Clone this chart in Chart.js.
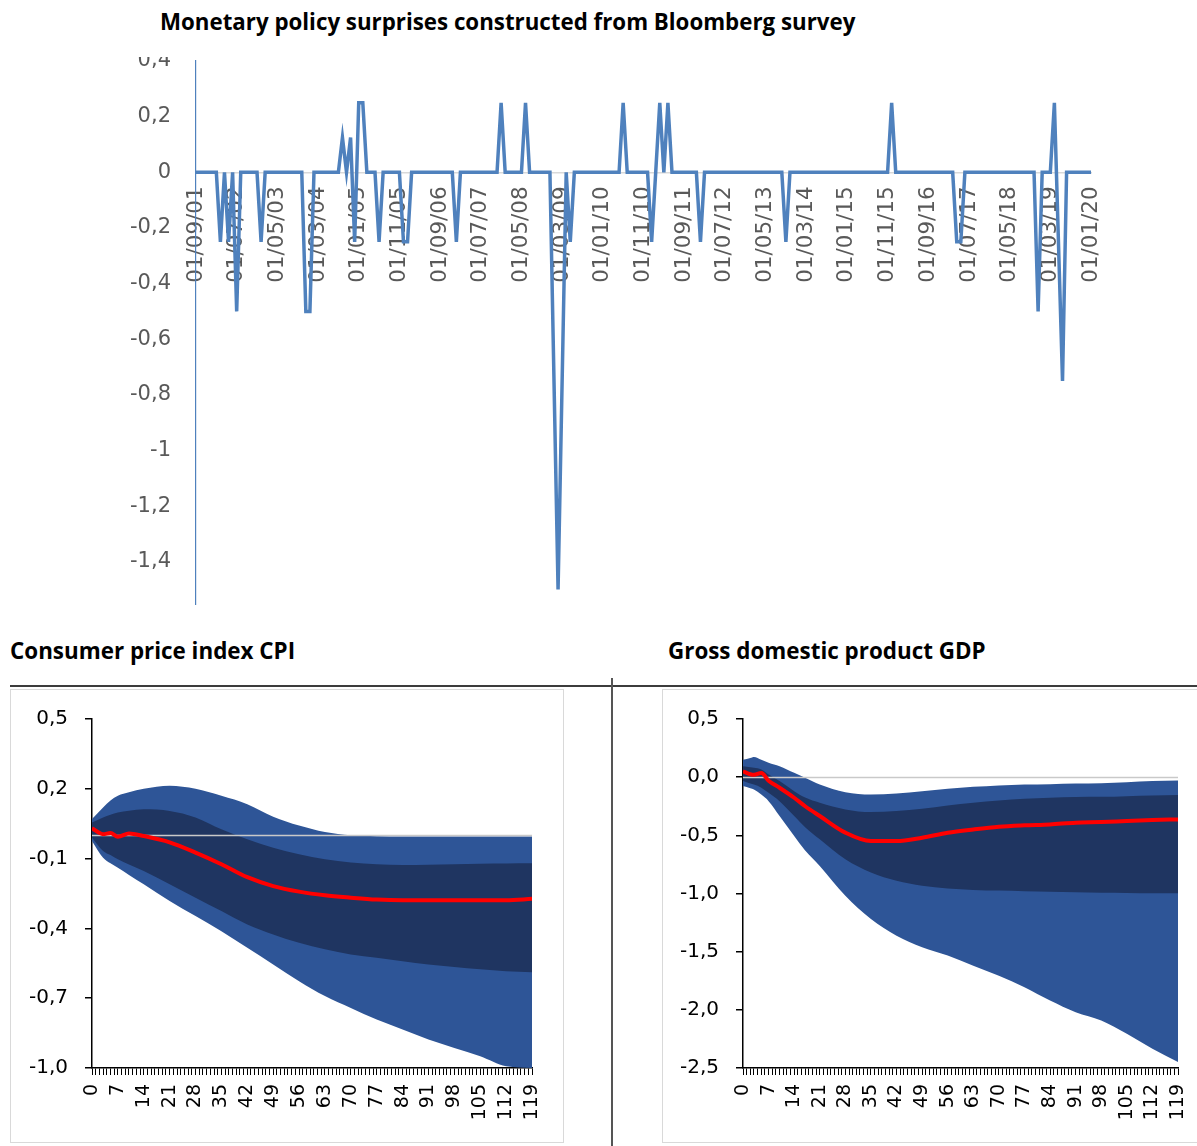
<!DOCTYPE html>
<html>
<head>
<meta charset="utf-8">
<script src="https://cdn.jsdelivr.net/npm/chart.js@4.4.1/dist/chart.umd.min.js"></script>
<style>
  html, body { margin: 0; padding: 0; background: #fff; }
  body { width: 1197px; height: 1146px; position: relative; overflow: hidden; font-family: "Open Sans", sans-serif; }
  .title { position: absolute; font-weight: 700; color: #000; white-space: nowrap; line-height: 30px; }
  #topWrap { position: absolute; left: 0; top: 0; width: 1197px; height: 605px; overflow: hidden; }
  #topCover { position: absolute; left: 0; top: 0; width: 1197px; height: 57px; background: #fff; }
  .rule { position: absolute; background: #3c3c3c; }
  .box { position: absolute; border: 1px solid #d9d9d9; box-sizing: border-box; }
  canvas { position: absolute; }
</style>
</head>
<body>

<div id="topWrap">
  <canvas id="topChart" width="1197" height="655" style="left:0;top:0;width:1197px;height:655px"></canvas>
  <div id="topCover"></div>
</div>
<div class="title" style="left:160px;top:7px;font-size:22.3px">Monetary policy surprises constructed from Bloomberg survey</div>

<div class="title" style="left:10px;top:636px;font-size:22.4px">Consumer price index CPI</div>
<div class="title" style="left:668px;top:636px;font-size:22.4px">Gross domestic product GDP</div>

<div class="rule" style="left:10px;top:685px;width:1187px;height:2px"></div>
<div class="rule" style="left:611px;top:678px;width:2px;height:468px;background:#555"></div>
<div class="box" style="left:10px;top:689px;width:554px;height:454px"></div>
<div class="box" style="left:662px;top:689px;width:560px;height:454px"></div>

<canvas id="cpiChart" width="600" height="457" style="left:0;top:689px;width:600px;height:457px"></canvas>
<canvas id="gdpChart" width="605" height="457" style="left:612px;top:689px;width:605px;height:457px"></canvas>

<script>
// ---------- Monetary policy surprises (monthly, Sep 2001 - Jan 2020) ----------
const firstYear = 2001, firstMonth = 9, monthCount = 221;
const months = [];
for (let k = 0; k < monthCount; k++) {
  const m = (firstMonth - 1 + k) % 12 + 1;
  const y = firstYear + Math.floor((firstMonth - 1 + k) / 12);
  months.push('01/' + String(m).padStart(2, '0') + '/' + String(y % 100).padStart(2, '0'));
}

// surprise in percentage points; null = no observation that month
const surprises = [
  /* 2001 */ 0, 0, 0, 0,
  /* 2002 */ 0, 0, -0.25, 0, -0.25, 0, -0.5, 0, 0, 0, 0, 0,
  /* 2003 */ -0.25, 0, 0, 0, 0, 0, 0, 0, 0, 0, 0, -0.5,
  /* 2004 */ -0.5, 0, 0, 0, 0, 0, 0, 0, 0.125, 0, 0.125, -0.25,
  /* 2005 */ 0.25, 0.25, 0, 0, 0, -0.25, 0, 0, 0, 0, 0, -0.25,
  /* 2006 */ -0.25, 0, 0, 0, 0, 0, 0, 0, 0, 0, 0, 0,
  /* 2007 */ -0.25, 0, 0, 0, 0, 0, 0, 0, 0, 0, 0, 0.25,
  /* 2008 */ 0, 0, 0, 0, 0, 0.25, 0, 0, 0, 0, 0, 0,
  /* 2009 */ null, -1.5, null, 0, -0.25, 0, 0, 0, 0, 0, 0, 0,
  /* 2010 */ 0, 0, 0, 0, 0, 0.25, 0, 0, 0, 0, 0, 0,
  /* 2011 */ -0.25, 0, 0.25, 0, 0.25, 0, 0, 0, 0, 0, 0, 0,
  /* 2012 */ -0.25, 0, 0, 0, 0, 0, 0, 0, 0, 0, 0, 0,
  /* 2013 */ 0, 0, 0, 0, 0, 0, 0, 0, 0, -0.25, 0, 0,
  /* 2014 */ 0, 0, 0, 0, 0, 0, 0, 0, 0, 0, 0, 0,
  /* 2015 */ 0, 0, 0, 0, 0, 0, 0, 0, 0, 0, 0, 0.25,
  /* 2016 */ 0, 0, 0, 0, 0, 0, 0, 0, 0, 0, 0, 0,
  /* 2017 */ 0, 0, 0, -0.25, -0.25, 0, 0, 0, 0, 0, 0, 0,
  /* 2018 */ 0, 0, 0, 0, 0, 0, 0, 0, 0, 0, 0, -0.5,
  /* 2019 */ 0, 0, 0, 0.25, null, -0.75, 0, 0, 0, 0, 0, 0,
  /* 2020 */ 0
];
const dateLabelEvery = 10;

// ---------- Impulse responses: CPI ----------
const cpiHorizons = [0, 3, 5, 7, 10, 14, 21, 28, 35, 42, 49, 56, 63, 70, 77, 84, 91, 98, 105, 112, 119];
const cpiMedian   = [0.03, 0.005, 0.01, -0.006, 0.008, -0.003, -0.03, -0.074, -0.124, -0.18, -0.218, -0.242, -0.258, -0.268, -0.276, -0.279, -0.279, -0.279, -0.279, -0.279, -0.273];
const cpiInnerHi  = [0.055, 0.077, 0.088, 0.098, 0.106, 0.112, 0.105, 0.077, 0.026, -0.017, -0.053, -0.081, -0.103, -0.117, -0.124, -0.127, -0.126, -0.124, -0.122, -0.121, -0.12];
const cpiInnerLo  = [-0.01, -0.067, -0.085, -0.103, -0.125, -0.153, -0.21, -0.268, -0.325, -0.383, -0.426, -0.462, -0.49, -0.512, -0.526, -0.541, -0.555, -0.566, -0.576, -0.584, -0.588];
const cpiOuterHi  = [0.07, 0.12, 0.15, 0.17, 0.185, 0.2, 0.213, 0.2, 0.17, 0.134, 0.08, 0.042, 0.014, 0.0, -0.004, -0.005, -0.005, -0.005, -0.005, -0.005, -0.005];
const cpiOuterLo  = [-0.024, -0.096, -0.12, -0.139, -0.17, -0.21, -0.282, -0.347, -0.412, -0.483, -0.555, -0.627, -0.691, -0.742, -0.792, -0.835, -0.878, -0.914, -0.95, -0.993, -1.0];

// ---------- Impulse responses: GDP ----------
const gdpHorizons = [0, 2, 3, 5, 7, 10, 14, 17, 21, 28, 35, 42, 49, 56, 63, 70, 77, 84, 91, 98, 105, 112, 119];
const gdpMedian   = [0.05, 0.025, 0.02, 0.035, -0.03, -0.091, -0.177, -0.25, -0.334, -0.477, -0.549, -0.549, -0.52, -0.477, -0.449, -0.426, -0.414, -0.406, -0.391, -0.386, -0.377, -0.369, -0.363];
const gdpInnerHi  = [0.094, 0.085, 0.08, 0.066, 0.023, -0.034, -0.12, -0.175, -0.22, -0.277, -0.3, -0.291, -0.271, -0.243, -0.22, -0.2, -0.186, -0.177, -0.171, -0.169, -0.163, -0.157, -0.154];
const gdpInnerLo  = [-0.034, -0.055, -0.063, -0.09, -0.134, -0.206, -0.334, -0.43, -0.534, -0.706, -0.82, -0.891, -0.934, -0.957, -0.969, -0.975, -0.98, -0.985, -0.99, -0.993, -0.995, -0.997, -0.997];
const gdpOuterHi  = [0.15, 0.165, 0.174, 0.15, 0.123, 0.094, 0.037, -0.006, -0.063, -0.129, -0.149, -0.14, -0.12, -0.1, -0.083, -0.071, -0.063, -0.06, -0.054, -0.052, -0.043, -0.034, -0.029];
const gdpOuterLo  = [-0.077, -0.095, -0.106, -0.15, -0.206, -0.334, -0.506, -0.63, -0.763, -1.02, -1.22, -1.363, -1.463, -1.534, -1.62, -1.706, -1.806, -1.92, -2.02, -2.091, -2.206, -2.334, -2.449];

const horizonMax = 119;
const horizonLabelEvery = 7;

// ---------- styling ----------
Chart.defaults.font.family = "'DejaVu Sans', sans-serif";
const BLUE_LINE = '#4f81bd';
const BAND_OUTER = '#2e5597';
const BAND_INNER = '#1f3561';
const MEDIAN_RED = '#ff0000';

const fmtTop = v => {
  const r = Math.round(v * 10) / 10;
  return r === 0 ? '0' : String(r).replace('.', ',');
};
const fmtBand = v => {
  const r = Math.round(v * 10) / 10;
  return (r === 0 ? 0 : r).toFixed(1).replace('.', ',');
};

// ---------- top chart ----------
new Chart(document.getElementById('topChart'), {
  type: 'line',
  data: {
    labels: months,
    datasets: [{
      data: surprises,
      borderColor: BLUE_LINE,
      borderWidth: 3.5,
      pointRadius: 0,
      tension: 0,
      spanGaps: true,
      fill: false,
      borderJoinStyle: 'miter'
    }]
  },
  options: {
    responsive: false,
    animation: false,
    devicePixelRatio: 1,
    layout: { padding: { left: 0, right: 106, top: 61, bottom: 26 } },
    plugins: { legend: { display: false }, tooltip: { enabled: false } },
    scales: {
      x: {
        type: 'category',
        position: { y: 0 },
        offset: false,
        grid: { display: false, drawTicks: true, tickLength: 8 },
        border: { display: true, color: '#d9d9d9', width: 1.5 },
        ticks: {
          autoSkip: false, minRotation: 90, maxRotation: 90, padding: 6,
          color: '#595959', font: { size: 21.5 },
          callback: (v, i) => (i % dateLabelEvery === 0 ? months[i] : '')
        }
      },
      y: {
        min: -1.6, max: 0.4,
        grid: { display: false, drawTicks: false },
        border: { display: true, color: BLUE_LINE, width: 1.2 },
        ticks: { stepSize: 0.2, padding: 25, color: '#595959', font: { size: 21 }, callback: fmtTop },
        afterFit: s => { s.width = 196; }
      }
    }
  }
});

// ---------- band charts ----------
const zeroLinePlugin = {
  id: 'zeroLine',
  afterDatasetDraw(chart, args) {
    if (args.index !== 1) return;
    const { ctx, chartArea, scales } = chart;
    const py = Math.round(scales.y.getPixelForValue(0)) + 0.5;
    ctx.save();
    ctx.strokeStyle = '#c9c9c9';
    ctx.lineWidth = 1.5;
    ctx.beginPath();
    ctx.moveTo(chartArea.left, py);
    ctx.lineTo(chartArea.right, py);
    ctx.stroke();
    ctx.restore();
  }
};

function points(hs, vs) { return hs.map((h, k) => ({ x: h, y: vs[k] })); }

function bandChart(id, hs, med, inHi, inLo, outHi, outLo, yMin, yMax, yStep, axisLeft, padRight) {
  const common = { pointRadius: 0, cubicInterpolationMode: 'monotone' };
  new Chart(document.getElementById(id), {
    type: 'line',
    data: {
      datasets: [
        { ...common, data: points(hs, med), borderColor: MEDIAN_RED, borderWidth: 4, fill: false },
        { ...common, data: points(hs, inHi), borderWidth: 0, borderColor: BAND_INNER, backgroundColor: BAND_INNER, fill: '+1' },
        { ...common, data: points(hs, inLo), borderWidth: 0, borderColor: BAND_INNER, fill: false },
        { ...common, data: points(hs, outHi), borderWidth: 0, borderColor: BAND_OUTER, backgroundColor: BAND_OUTER, fill: '+1' },
        { ...common, data: points(hs, outLo), borderWidth: 0, borderColor: BAND_OUTER, fill: false }
      ]
    },
    options: {
      responsive: false,
      animation: false,
      devicePixelRatio: 1,
      layout: { padding: { left: 0, right: padRight, top: 30, bottom: 0 } },
      plugins: { legend: { display: false }, tooltip: { enabled: false } },
      scales: {
        x: {
          type: 'linear', min: 0, max: horizonMax,
          grid: { drawOnChartArea: false, drawTicks: true, tickLength: 7, color: '#000', lineWidth: 1 },
          border: { display: true, color: '#000', width: 1.5 },
          ticks: {
            stepSize: 1, autoSkip: false, minRotation: 90, maxRotation: 90, padding: 9,
            color: '#000', font: { size: 19 },
            callback: v => (v % horizonLabelEvery === 0 ? String(v) : '')
          },
          afterFit: s => { s.height = 78; }
        },
        y: {
          min: yMin, max: yMax,
          grid: { drawOnChartArea: false, drawTicks: true, tickLength: 7, color: '#000', lineWidth: 1.5 },
          border: { display: true, color: '#000', width: 1.5 },
          ticks: { stepSize: yStep, padding: 17, color: '#000', font: { size: 20 }, callback: fmtBand },
          afterFit: s => { s.width = axisLeft; }
        }
      }
    },
    plugins: [zeroLinePlugin]
  });
}

bandChart('cpiChart', cpiHorizons, cpiMedian, cpiInnerHi, cpiInnerLo, cpiOuterHi, cpiOuterLo, -1.0, 0.5, 0.3, 92, 68);
bandChart('gdpChart', gdpHorizons, gdpMedian, gdpInnerHi, gdpInnerLo, gdpOuterHi, gdpOuterLo, -2.5, 0.5, 0.5, 131, 39);
</script>
</body>
</html>
